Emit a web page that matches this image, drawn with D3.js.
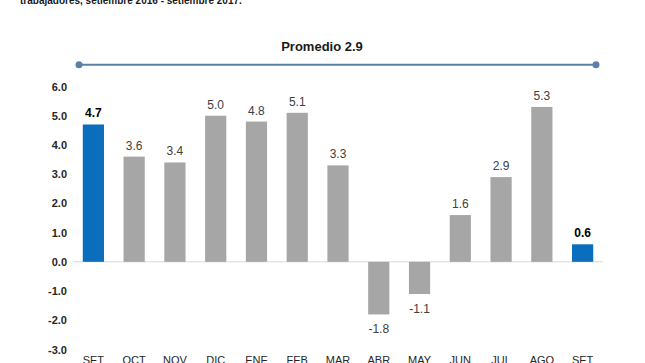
<!DOCTYPE html>
<html>
<head>
<meta charset="utf-8">
<script src="https://cdn.jsdelivr.net/npm/d3@7"></script>
<style>
  body { margin: 0; background: #fff; }
  svg { display: block; font-family: "Liberation Sans", Arial, sans-serif; }
</style>
</head>
<body>
<div id="chart"></div>
<script>
const months = ["SET", "OCT", "NOV", "DIC", "ENE", "FEB", "MAR", "ABR", "MAY", "JUN", "JUL", "AGO", "SET"];
const values = [4.7, 3.6, 3.4, 5.0, 4.8, 5.1, 3.3, -1.8, -1.1, 1.6, 2.9, 5.3, 0.6];
const yTicks = [6, 5, 4, 3, 2, 1, 0, -1, -2, -3];
const promedio = 2.9;
const titleText = "trabajadores, setiembre 2016 - setiembre 2017.";

const width = 645, height = 363;
const fmt = (d) => d.toFixed(1); // guion normal, no signo menos unicode

const svg = d3.select("#chart").append("svg")
  .attr("width", width)
  .attr("height", height);

// titulo cortado arriba
svg.append("text")
  .attr("x", 20)
  .attr("y", 3.5)
  .attr("font-size", 10)
  .attr("font-weight", "bold")
  .attr("fill", "#1a1a1a")
  .text(titleText);

const x = d3.scaleBand()
  .domain(d3.range(months.length))
  .range([73, 603])
  .paddingInner(0.48)
  .paddingOuter(0.24);

const y = d3.scaleLinear().domain([-3, 6]).range([349.5, 86.5]);

// eje y
const yAxis = d3.axisLeft(y).tickValues(yTicks).tickSize(0).tickFormat(fmt);
svg.append("g")
  .attr("transform", "translate(67,0)")
  .call(yAxis)
  .call(g => g.select(".domain").remove())
  .call(g => g.selectAll("text")
    .attr("x", 0)
    .attr("font-size", 11)
    .attr("font-weight", "bold")
    .attr("fill", "#262626")
    .attr("font-family", "Liberation Sans, Arial, sans-serif"));

// linea cero
svg.append("line")
  .attr("x1", 73).attr("x2", 603)
  .attr("y1", y(0)).attr("y2", y(0))
  .attr("stroke", "#d9d9d9")
  .attr("stroke-width", 1);

// barras
svg.selectAll("rect.bar")
  .data(values)
  .enter()
  .append("rect")
  .attr("class", "bar")
  .attr("x", (d, i) => x(i))
  .attr("width", x.bandwidth())
  .attr("y", d => y(Math.max(0, d)))
  .attr("height", d => Math.abs(y(d) - y(0)))
  .attr("fill", (d, i) => (i === 0 || i === values.length - 1) ? "#0a6ebd" : "#a6a6a6");

// etiquetas de valores
svg.selectAll("text.val")
  .data(values)
  .enter()
  .append("text")
  .attr("class", "val")
  .attr("x", (d, i) => x(i) + x.bandwidth() / 2)
  .attr("y", d => d >= 0 ? y(d) - 7 : y(d) + 19)
  .attr("text-anchor", "middle")
  .attr("font-size", 12)
  .attr("font-weight", (d, i) => (i === 0 || i === values.length - 1) ? "bold" : "normal")
  .attr("fill", (d, i) => (i === 0 || i === values.length - 1) ? "#000" : "#404040")
  .text(fmt);

// eje x (meses)
const xAxis = d3.axisBottom(x).tickSize(0).tickFormat(i => months[i]);
svg.append("g")
  .attr("transform", "translate(0,356)")
  .call(xAxis)
  .call(g => g.select(".domain").remove())
  .call(g => g.selectAll("text")
    .attr("y", 0)
    .attr("dy", "0.75em")
    .attr("font-size", 11)
    .attr("fill", "#262626")
    .attr("font-family", "Liberation Sans, Arial, sans-serif"));

// linea de promedio
const lineY = 64.7;
svg.append("line")
  .attr("x1", 79).attr("x2", 596)
  .attr("y1", lineY).attr("y2", lineY)
  .attr("stroke", "#5b80a8")
  .attr("stroke-width", 2);
svg.selectAll("circle.end")
  .data([79, 596])
  .enter()
  .append("circle")
  .attr("cx", d => d)
  .attr("cy", lineY)
  .attr("r", 3.5)
  .attr("fill", "#5b80a8");

svg.append("text")
  .attr("x", 322)
  .attr("y", 51)
  .attr("text-anchor", "middle")
  .attr("font-size", 13)
  .attr("font-weight", "bold")
  .attr("fill", "#1a1a1a")
  .text("Promedio " + promedio.toFixed(1));
</script>
</body>
</html>
